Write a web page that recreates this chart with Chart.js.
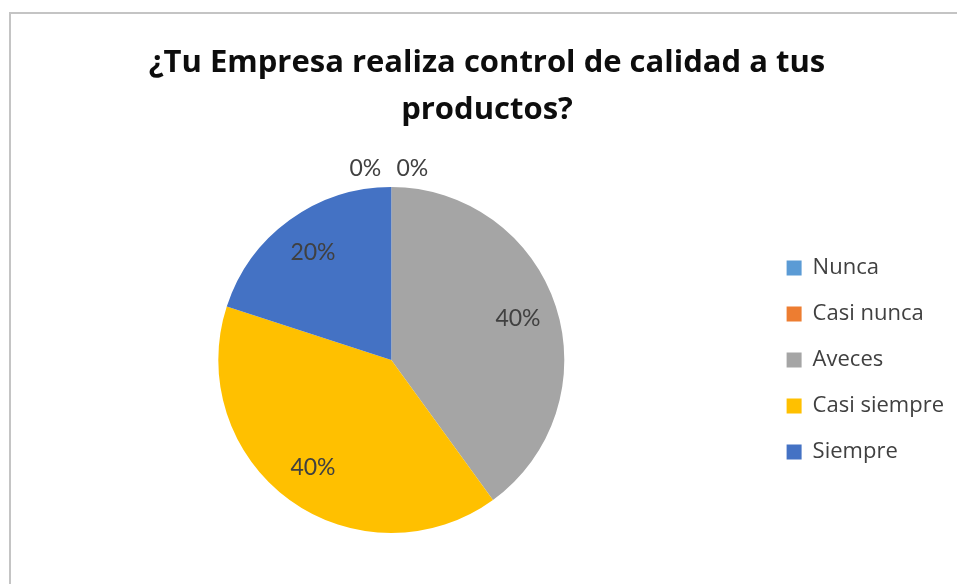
<!DOCTYPE html>
<html>
<head>
<meta charset="utf-8">
<script src="https://cdn.jsdelivr.net/npm/chart.js@4.4.1/dist/chart.umd.min.js"></script>
<style>
  html, body { margin: 0; padding: 0; background: #fff; overflow: hidden; }
  #frame {
    position: absolute; left: 9px; top: 12px; width: 1000px; height: 700px;
    border-left: 2px solid #c4c4c4; border-top: 2px solid #c4c4c4;
  }
  #wrap { position: absolute; left: 0; top: 0; width: 957px; height: 584px; }
</style>
</head>
<body>
<div id="frame"></div>
<div id="wrap"><canvas id="pieChart"></canvas></div>
<script>
const categories = ["Nunca", "Casi nunca", "Aveces", "Casi siempre", "Siempre"];
const percentages = [0, 0, 40, 40, 20];
const sliceColors = ["#5B9BD5", "#ED7D31", "#A5A5A5", "#FFC000", "#4472C4"];
const titleLines = ["¿Tu Empresa realiza control de calidad a tus", "productos?"];

// Etiquetas de porcentaje sobre cada sector
const sliceLabels = {
  id: "sliceLabels",
  afterDatasetsDraw(chart) {
    const ctx = chart.ctx;
    const meta = chart.getDatasetMeta(0);
    const values = chart.data.datasets[0].data;
    const zeroShift = [-26, 21];
    let zeroCount = 0;
    ctx.save();
    ctx.font = "23px Lato";
    ctx.fillStyle = "#404040";
    ctx.textAlign = "center";
    ctx.textBaseline = "middle";
    meta.data.forEach((arc, i) => {
      const p = arc.getProps(["x", "y", "startAngle", "endAngle", "outerRadius"], true);
      const mid = (p.startAngle + p.endAngle) / 2;
      let x, y;
      if (values[i] === 0) {
        const r = p.outerRadius + 18;
        x = p.x + Math.cos(mid) * r + (zeroShift[zeroCount] || 0);
        y = p.y + Math.sin(mid) * r;
        zeroCount++;
      } else {
        const r = p.outerRadius * 0.77;
        x = p.x + Math.cos(mid) * r;
        y = p.y + Math.sin(mid) * r;
      }
      ctx.fillText(values[i] + "%", x, y);
    });
    ctx.restore();
  }
};

document.addEventListener("DOMContentLoaded", function () {
  const pieCtx = document.getElementById("pieChart");
  new Chart(pieCtx, {
    type: "pie",
    data: {
      labels: categories,
      datasets: [
        {
          data: percentages,
          backgroundColor: sliceColors,
          borderWidth: 0,
        },
      ],
    },
    options: {
      responsive: true,
      maintainAspectRatio: false,
      animation: false,
      layout: { padding: { left: 20, top: 0, right: 3, bottom: 51 } },
      plugins: {
        title: {
          display: true,
          text: titleLines,
          color: "#0d0d0d",
          font: { family: "'Open Sans', sans-serif", size: 31, weight: "bold", lineHeight: 1.5 },
          padding: { top: 40, bottom: 54 },
        },
        legend: {
          position: "right",
          fullSize: false,
          labels: {
            boxWidth: 15,
            boxHeight: 15,
            padding: 24,
            color: "#404040",
            font: { family: "'Open Sans', sans-serif", size: 22 },
          },
        },
        tooltip: { enabled: false },
      },
    },
    plugins: [sliceLabels],
  });
});
</script>
</body>
</html>
